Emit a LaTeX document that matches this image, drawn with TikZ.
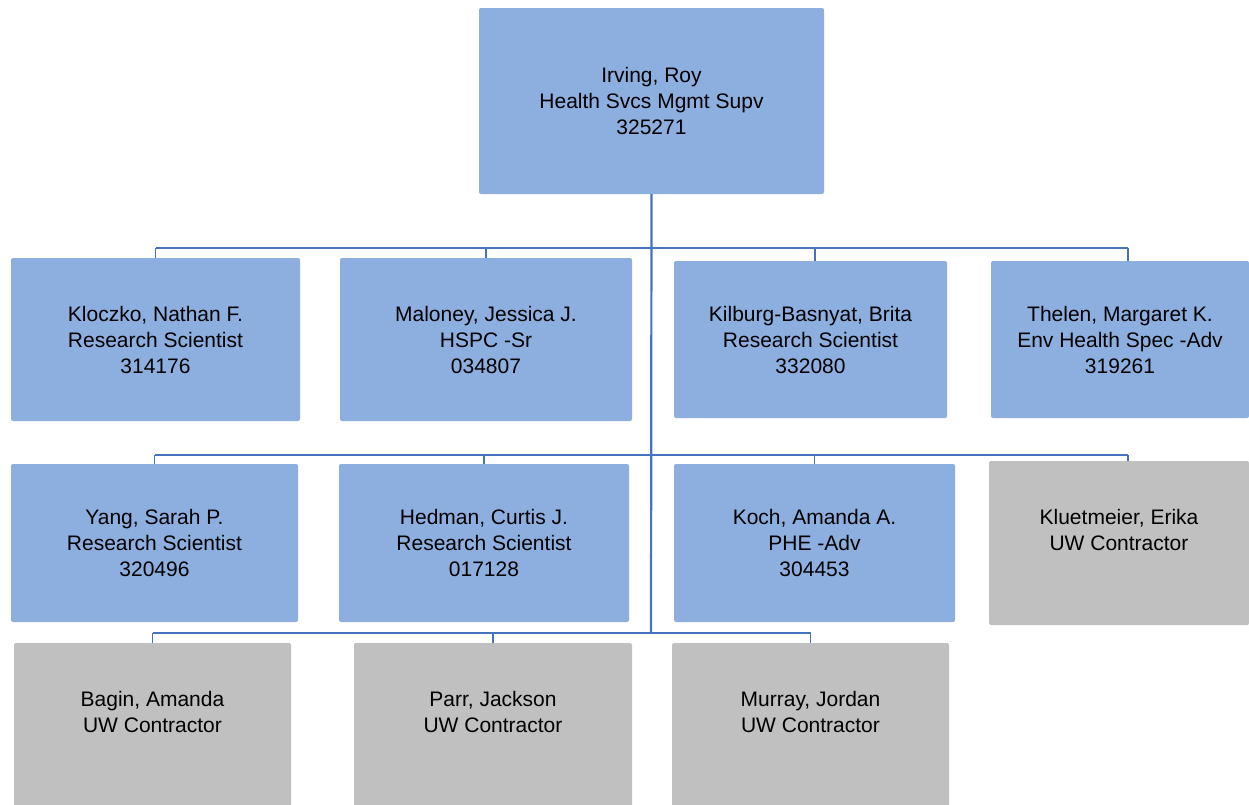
\documentclass[tikz,border=0pt]{standalone}
\usepackage{fontspec}
\setmainfont{Liberation Sans}
\definecolor{boxblue}{RGB}{141,175,224}
\definecolor{boxgray}{RGB}{192,192,192}
\definecolor{linkblue}{RGB}{70,114,190}

\begin{document}
\begin{tikzpicture}[x=1pt,y=-1pt,
    person/.style={shape=rectangle,fill=boxblue,rounded corners=2pt,inner sep=0pt,align=center,
      font=\fontsize{21}{26}\selectfont},
    contractor/.style={person,fill=boxgray},
    link/.style={draw=linkblue,line width=1.6pt}]
  \useasboundingbox (0,0) rectangle (1249,804);
  % top
  \node[person,minimum width=345pt,minimum height=186pt] (irving) at (651.5,101) {Irving, Roy\\Health Svcs Mgmt Supv\\325271};
  % row 1
  \node[person,minimum width=289pt,minimum height=163pt] (kloczko) at (155.5,339.5) {Kloczko, Nathan F.\\Research Scientist\\314176};
  \node[person,minimum width=292pt,minimum height=163pt] (maloney) at (486,339.5) {Maloney, Jessica J.\\HSPC -Sr\\034807};
  \node[person,minimum width=273pt,minimum height=157pt] (kilburg) at (810.5,339.5) {Kilburg-Basnyat, Brita\\Research Scientist\\332080};
  \node[person,minimum width=258pt,minimum height=157pt] (thelen) at (1120,339.5) {Thelen, Margaret K.\\Env Health Spec -Adv\\319261};
  % row 2
  \node[person,minimum width=287pt,minimum height=158pt] (yang) at (154.5,543) {Yang, Sarah P.\\Research Scientist\\320496};
  \node[person,minimum width=290pt,minimum height=158pt] (hedman) at (484,543) {Hedman, Curtis J.\\Research Scientist\\017128};
  \node[person,minimum width=281pt,minimum height=158pt] (koch) at (814.5,543) {Koch, Amanda A.\\PHE -Adv\\304453};
  \node[contractor,minimum width=260pt,minimum height=164pt] (kluetmeier) at (1119,543) {Kluetmeier, Erika\\UW Contractor\\~};
  % row 3
  \node[contractor,minimum width=277pt,minimum height=164pt] (bagin) at (152.5,725) {Bagin, Amanda\\UW Contractor\\~};
  \node[contractor,minimum width=278pt,minimum height=164pt] (parr) at (493,725) {Parr, Jackson\\UW Contractor\\~};
  \node[contractor,minimum width=277pt,minimum height=164pt] (murray) at (810.5,725) {Murray, Jordan\\UW Contractor\\~};
  % connectors
  \coordinate (bus1) at (651,248);
  \coordinate (bus2) at (651,455);
  \coordinate (bus3) at (651,633);
  \coordinate[xshift=4.5pt] (kilburgtop) at (kilburg.north);
  \coordinate[xshift=8pt] (theltop) at (thelen.north);
  \coordinate[xshift=9pt] (kluettop) at (kluetmeier.north);
  \draw[link,line width=2.2pt] (irving.south) -- (bus3);
  \draw[link] (bus1 -| kloczko.north) -- (bus1 -| theltop);
  \foreach \n in {kloczko.north,maloney.north,kilburgtop,theltop}
    \draw[link] (bus1 -| \n) -- (\n);
  \draw[link] (bus2 -| yang.north) -- (bus2 -| kluettop);
  \foreach \n in {yang.north,hedman.north,koch.north,kluettop}
    \draw[link] (bus2 -| \n) -- (\n);
  \draw[link] (bus3 -| bagin.north) -- (bus3 -| murray.north);
  \foreach \n in {bagin,parr,murray}
    \draw[link] (bus3 -| \n.north) -- (\n.north);
\end{tikzpicture}
\end{document}
